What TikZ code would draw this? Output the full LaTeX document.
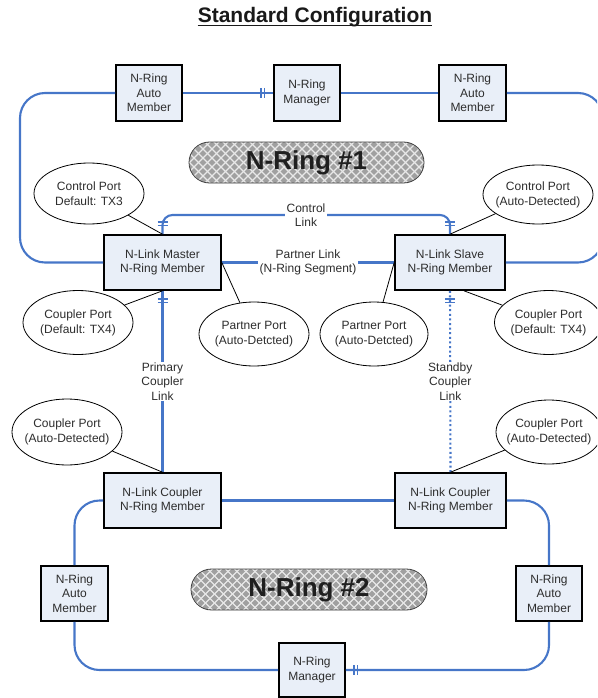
\documentclass[tikz,border=0pt]{standalone}
\usepackage{fontspec}
\setmainfont{Liberation Sans}
\usetikzlibrary{shapes.geometric,calc}
\definecolor{ringblue}{RGB}{70,118,200}
\definecolor{boxfill}{RGB}{233,239,248}
\definecolor{txtgray}{RGB}{45,45,45}
\definecolor{bangray}{RGB}{160,160,160}
\definecolor{latt}{RGB}{232,232,232}
\begin{document}
\begin{tikzpicture}[x=1pt,y=-1pt,
  box/.style={draw=black, line width=1.6pt, fill=boxfill, inner sep=0pt, align=center,
    font=\fontsize{12}{14.5}\selectfont, text=txtgray},
  port/.style={ellipse, draw=black, line width=0.8pt, fill=white, inner sep=-10pt, align=center,
    font=\fontsize{12}{15}\selectfont, text=txtgray},
  lbl/.style={fill=white, inner xsep=2pt, inner ysep=1pt, align=center,
    font=\fontsize{12}{14.5}\selectfont, text=txtgray},
  ring/.style={draw=ringblue, line width=2.1pt},
  conn/.style={draw=black, line width=0.8pt},
  banner/.style={draw=black!75, line width=0.8pt, fill=bangray, rounded corners=20.5pt,
    minimum width=235, minimum height=41, inner sep=0pt,
    font=\bfseries\fontsize{26}{26}\selectfont, text=black!88,
    path picture={
      \coordinate (pc) at (path picture bounding box.center);
      \foreach \k in {-18,...,18}{
        \draw[latt, line width=1.1pt] ($(pc)+(\k*9-25,-25)$) -- ++(50,50);
        \draw[latt, line width=1.1pt] ($(pc)+(\k*9-25,25)$) -- ++(50,-50);
      }
    }},
  hbars/.pic={\draw[ringblue, line width=1.3pt] (-1.7,-5) -- (-1.7,5) (1.7,-5) -- (1.7,5);},
  vbars/.pic={\draw[ringblue, line width=1.3pt] (-5,-1.7) -- (5,-1.7) (-5,1.7) -- (5,1.7);}
]
\useasboundingbox (0,0) rectangle (597,698);
\clip (0,0) rectangle (597,698);

% title
\node[font=\bfseries\fontsize{21}{21}\selectfont, anchor=base, inner sep=0pt, text=black!90] (title) at (315,23) {Standard Configuration};
\draw[line width=1.4pt, black!90] ([yshift=-2.6pt]title.base west) -- ([yshift=-2.6pt]title.base east);

% ring 1 nodes
\node[box, minimum width=66, minimum height=56] (am1) at (149,93) {N-Ring\\Auto\\Member};
\node[box, minimum width=66, minimum height=56] (mgr1) at (307,93) {N-Ring\\Manager};
\node[box, minimum width=67, minimum height=56] (am2) at (472.5,93) {N-Ring\\Auto\\Member};
\node[banner] (ring1) at (306.5,162.5) {N-Ring \#1};
\node[port, minimum width=110, minimum height=61] (cp1) at (89,193.5) {Control Port\\Default: TX3};
\node[port, minimum width=110, minimum height=59] (cp2) at (538,194.5) {Control Port\\(Auto-Detected)};
\node[box, minimum width=117, minimum height=55] (master) at (162.5,262.5) {N-Link Master\\N-Ring Member};
\node[box, minimum width=110, minimum height=55] (slave) at (450,262.5) {N-Link Slave\\N-Ring Member};
\node[port, minimum width=110, minimum height=64] (cpL) at (78,322.5) {Coupler Port\\(Default: TX4)};
\node[port, minimum width=110, minimum height=64] (ppL) at (254,334) {Partner Port\\(Auto-Detcted)};
\node[port, minimum width=108, minimum height=64] (ppR) at (374,334) {Partner Port\\(Auto-Detcted)};
\node[port, minimum width=108, minimum height=64] (cpR) at (548.5,322.5) {Coupler Port\\(Default: TX4)};

% ring 2 nodes
\node[port, minimum width=110, minimum height=66] (caL) at (67,432) {Coupler Port\\(Auto-Detected)};
\node[port, minimum width=106, minimum height=64] (caR) at (549,432) {Coupler Port\\(Auto-Detected)};
\node[box, minimum width=117, minimum height=55] (coupL) at (162.5,500.5) {N-Link Coupler\\N-Ring Member};
\node[box, minimum width=111, minimum height=55] (coupR) at (450.5,500.5) {N-Link Coupler\\N-Ring Member};
\node[box, minimum width=67, minimum height=55] (am3) at (74.5,593.5) {N-Ring\\Auto\\Member};
\node[banner, minimum width=236] (ring2) at (309,589.5) {N-Ring \#2};
\node[box, minimum width=66, minimum height=55] (am4) at (549,593.5) {N-Ring\\Auto\\Member};
\node[box, minimum width=66, minimum height=54] (mgr2) at (312,670) {N-Ring\\Manager};

% ring 1 connectors
\coordinate (r1L) at (20,180);
\coordinate (r1R) at (603,180);
\coordinate (ctl) at (306,215);
\draw[ring, rounded corners=25] (master.west) -| (r1L) |- (am1.west);
\draw[ring] (am1.east) -- (mgr1.west);
\draw[ring] (mgr1.east) -- (am2.west);
\draw[ring, rounded corners=25] (am2.east) -| (r1R) |- (slave.east);
\draw[ring, rounded corners=10] (master.north) |- (ctl) -| (slave.north);
\node[lbl] (ctlL) at (ctl) {Control\\Link};
\draw[ring] (master.east) -- (slave.west) node[lbl, midway] (ptL) {Partner Link\\(N-Ring Segment)};
\draw[ring] (master.south) -- (coupL.north) node[lbl, midway] (prL) {Primary\\Coupler\\Link};
\draw[ring, dash pattern=on 2pt off 2.6pt] (slave.south) -- (coupR.north) node[lbl, midway] (sbL) {Standby\\Coupler\\Link};

% ring 2 connectors
\draw[ring, rounded corners=25] (coupL.west) -| (am3.north);
\draw[ring] (coupL.east) -- (coupR.west);
\draw[ring, rounded corners=25] (coupR.east) -| (am4.north);
\draw[ring, rounded corners=25] (am3.south) |- (mgr2.west);
\draw[ring, rounded corners=25] (am4.south) |- (mgr2.east);

% break marks
\pic at ([xshift=-10.5pt]mgr1.west) {hbars};
\pic at ([yshift=10.5pt]master.north) {vbars};
\pic at ([yshift=10.5pt]slave.north) {vbars};
\pic at ([yshift=-10pt]master.south) {vbars};
\pic at ([yshift=-10pt]slave.south) {vbars};
\pic at ([xshift=10pt]mgr2.east) {hbars};

% port callouts
\coordinate (slaveS2) at ($(slave.south)!0.25!(slave.south east)$);
\draw[conn] (cp1) -- (master.north);
\draw[conn] (cpL) -- (master.south);
\draw[conn] (ppL) -- (master.east);
\draw[conn] (cp2) -- (slave.north);
\draw[conn] (ppR) -- (slave.west);
\draw[conn] (cpR) -- (slaveS2);
\draw[conn] (caL) -- (coupL.north);
\draw[conn] (caR) -- (coupR.north);
\end{tikzpicture}
\end{document}
